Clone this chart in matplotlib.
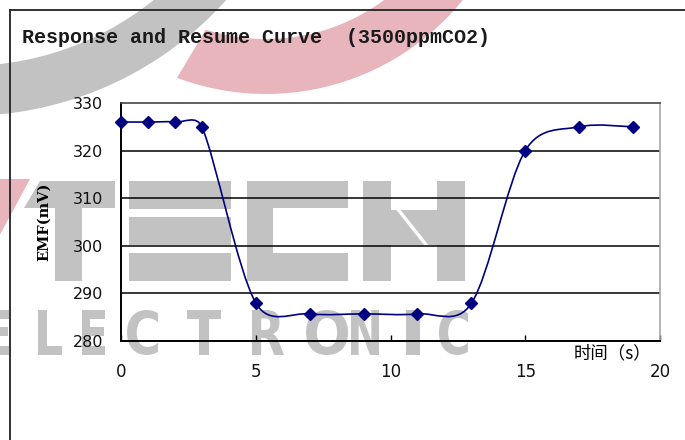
import numpy as np
import matplotlib.pyplot as plt
from matplotlib.path import Path
from matplotlib.patches import PathPatch, Rectangle, Wedge, Polygon
from matplotlib.textpath import TextPath
from matplotlib.font_manager import FontProperties
from matplotlib.transforms import Affine2D
from matplotlib.lines import Line2D

# data
time_s = [0, 1, 2, 3, 5, 7, 9, 11, 13, 15, 17, 19]
emf_mv = [326, 326, 326, 325, 288, 285.7, 285.7, 285.7, 287.9, 320, 325, 325]
x_ticks = [0, 5, 10, 15, 20]
y_ticks = [280, 290, 300, 310, 320, 330]
title = "Response and Resume Curve  (3500ppmCO2)"
y_label = "EMF(mV)"
x_label = "时间（s）"

W, H = 685, 440
GRAY = '#c2c2c2'
PINK = '#e9b5bd'
NAVY = '#000080'

fig = plt.figure(figsize=(W / 100, H / 100), dpi=100)
# pixel coordinates of the picture, origin at top-left
tpx = Affine2D().scale(1 / W, -1 / H).translate(0, 1) + fig.transFigure


def add_bg(artist):
    artist.set_transform(tpx)
    artist.set_zorder(-2)
    fig.add_artist(artist)


# ---- watermark logo ----
add_bg(Wedge((-34, -234), 350, 0, 360, width=50, fc=GRAY, ec='none'))

cx, cy, ro, ri = 266, -159, 253, 198
a_out = np.radians(np.linspace(20, 110.6, 60))
a_in = np.radians(np.linspace(107.7, 20, 60))
red_arc = np.vstack([np.column_stack([cx + ro * np.cos(a_out), cy + ro * np.sin(a_out)]),
                     np.column_stack([cx + ri * np.cos(a_in), cy + ri * np.sin(a_in)])])
add_bg(Polygon(red_arc, closed=True, fc=PINK, ec='none'))
add_bg(Polygon([(-5, 179), (30, 179), (-5, 244)], closed=True, fc=PINK, ec='none'))

# T
add_bg(Polygon([(40, 181), (115, 181), (115, 208), (24, 208)], closed=True, fc=GRAY, ec='none'))
add_bg(Rectangle((55, 181), 27, 100, fc=GRAY, ec='none'))
# E as three bars
for top in (181, 217, 253):
    add_bg(Rectangle((129, top), 102, 28, fc=GRAY, ec='none'))
# C
add_bg(Rectangle((247, 181), 101, 27, fc=GRAY, ec='none'))
add_bg(Rectangle((247, 253), 101, 28, fc=GRAY, ec='none'))
add_bg(Rectangle((247, 181), 26, 100, fc=GRAY, ec='none'))
# H
add_bg(Rectangle((363, 181), 28, 100, fc=GRAY, ec='none'))
add_bg(Rectangle((437, 181), 28, 100, fc=GRAY, ec='none'))
add_bg(Rectangle((391, 210), 46, 35, fc=GRAY, ec='none'))
slit = Line2D([393, 427], [203, 246], color='white', lw=2.4)
slit.set_transform(tpx)
slit.set_zorder(-1.5)
fig.add_artist(slit)

# ELECTRONIC, each letter squeezed into its box
letter_boxes = [('E', -14, 9), ('L', 38, 62), ('E', 82, 105), ('C', 127, 158),
                ('T', 187, 221), ('R', 252, 284), ('O', 306, 348), ('N', 351, 379),
                ('I', 406, 420), ('C', 439, 468)]
fp = FontProperties(family='DejaVu Sans', weight='bold')
for ch, x0, x1 in letter_boxes:
    tp = TextPath((0, 0), ch, size=100, prop=fp)
    bb = tp.get_extents()
    tr = (Affine2D().translate(-bb.x0, -bb.y0)
          .scale((x1 - x0) / bb.width, -45 / bb.height).translate(x0, 355))
    add_bg(PathPatch(tr.transform_path(tp), fc=GRAY, ec='none'))

# outer frame
for xs, ys in (([10, W], [10, 10]), ([10, 10], [10, H])):
    ln = Line2D(xs, ys, color='#222222', lw=1.3)
    ln.set_transform(tpx)
    fig.add_artist(ln)

# ---- chart ----
ax = fig.add_axes([121 / W, 1 - 341 / H, (660 - 121) / W, (341 - 103) / H])
ax.set_facecolor('none')
ax.set_xlim(0, 20)
ax.set_ylim(280, 330)
ax.set_xticks(x_ticks)
ax.set_yticks(y_ticks)
for v in y_ticks[1:-1]:
    ax.axhline(v, color='black', lw=1.1, zorder=1)

for side in ('left', 'bottom'):
    ax.spines[side].set_linewidth(1.4)
    ax.spines[side].set_color('black')
ax.spines['top'].set_color('#444444')
ax.spines['top'].set_linewidth(1.2)
ax.spines['right'].set_color('#a8a8a8')
ax.spines['right'].set_linewidth(1.2)

ax.tick_params(axis='y', length=0, pad=13, labelsize=11.5, labelcolor='#111111')
ax.tick_params(axis='x', direction='in', length=4, width=1, pad=16,
               labelsize=12, labelcolor='#111111')


def excel_smooth(ax, xs, ys):
    # bezier smoothing in screen space, the way spreadsheet charts do it
    p = ax.transData.transform(np.column_stack([xs, ys]))
    n = len(p)
    verts, codes = [p[0]], [Path.MOVETO]
    for i in range(n - 1):
        p0, p1, p2, p3 = p[max(i - 1, 0)], p[i], p[i + 1], p[min(i + 2, n - 1)]
        d12 = np.hypot(*(p2 - p1))
        d02 = np.hypot(*(p2 - p0))
        d13 = np.hypot(*(p3 - p1))
        f1 = 1 / 6 if d02 / 6 < d12 / 2 else d12 / (2 * d02)
        f2 = 1 / 6 if d13 / 6 < d12 / 2 else d12 / (2 * d13)
        verts += [p1 + f1 * (p2 - p0), p2 - f2 * (p3 - p1), p2]
        codes += [Path.CURVE4] * 3
    return Path(ax.transData.inverted().transform(np.array(verts)), codes)


ax.add_patch(PathPatch(excel_smooth(ax, time_s, emf_mv), fc='none', ec=NAVY, lw=1.2, zorder=3))
ax.plot(time_s, emf_mv, 'D', color=NAVY, markersize=6.2, clip_on=False, zorder=4)

# texts
fig.text(22 / W, 1 - 43 / H, title, family='Liberation Mono', fontsize=14.4,
         weight='bold', color='#1a1a1a', va='baseline', ha='left')
fig.text(44 / W, 1 - 222 / H, y_label, family='DejaVu Serif', fontsize=10.5,
         weight='bold', rotation=90, ha='center', va='center')
fig.text(574 / W, 1 - 353 / H, x_label, family=['Noto Sans CJK SC', 'DejaVu Sans'],
         fontsize=12.5, ha='left', va='center')

fig.savefig('out.png', dpi=100)
